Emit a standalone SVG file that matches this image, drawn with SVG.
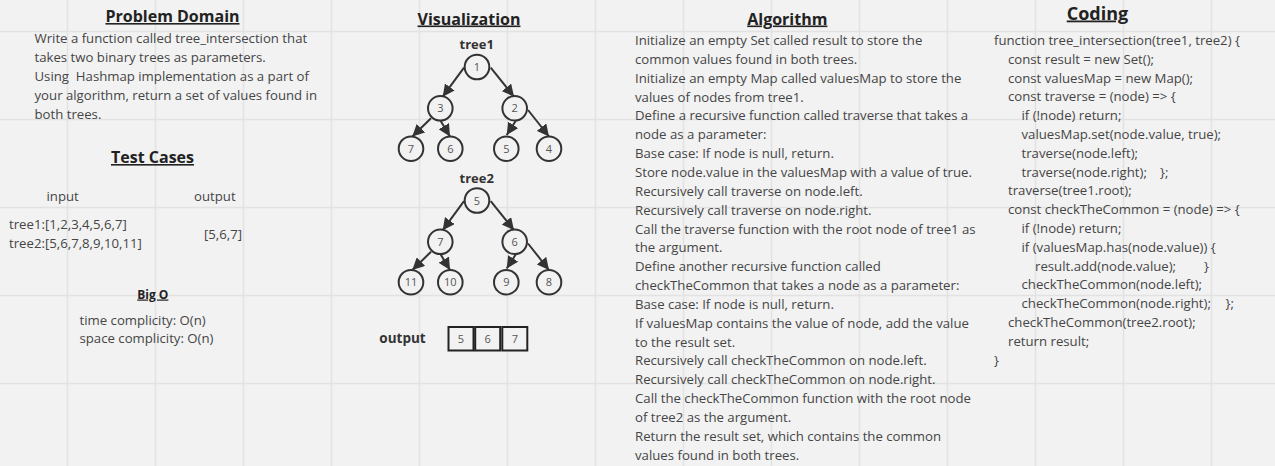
<svg xmlns="http://www.w3.org/2000/svg" width="1275" height="466" viewBox="0 0 1275 466">
<defs>
<style>
.bg{fill:#f2f2f2}
.grid line{stroke:#e2e2e2;stroke-width:1.5}
.h{font-family:"Open Sans","Liberation Sans",sans-serif;font-weight:bold;fill:#222;text-decoration:underline;text-anchor:middle}
.t{font-family:"Open Sans","Liberation Sans",sans-serif;font-size:13.2px;fill:#454545}
.b{font-family:"Open Sans","Liberation Sans",sans-serif;font-weight:bold;fill:#333}
.n circle{fill:#f2f2f2;stroke:#333;stroke-width:2}
.n text{font-family:"Open Sans","Liberation Sans",sans-serif;font-size:11px;fill:#555;text-anchor:middle}
.e line{stroke:#333;stroke-width:2;marker-end:url(#ah)}
.box rect{fill:#f2f2f2;stroke:#222;stroke-width:2}
</style>
<marker id="ah" markerUnits="userSpaceOnUse" markerWidth="12" markerHeight="12" refX="10" refY="5" orient="auto" viewBox="0 0 10 10"><path d="M0,0 L10,5 L0,10 z" fill="#333"/></marker>
</defs>
<rect class="bg" x="0" y="0" width="1275" height="466"/>
<g class="grid">
<line x1="67.5" y1="0" x2="67.5" y2="466"/><line x1="155.5" y1="0" x2="155.5" y2="466"/><line x1="243.5" y1="0" x2="243.5" y2="466"/><line x1="331.5" y1="0" x2="331.5" y2="466"/><line x1="419.5" y1="0" x2="419.5" y2="466"/><line x1="507.5" y1="0" x2="507.5" y2="466"/><line x1="595.5" y1="0" x2="595.5" y2="466"/><line x1="683.5" y1="0" x2="683.5" y2="466"/><line x1="771.5" y1="0" x2="771.5" y2="466"/><line x1="859.5" y1="0" x2="859.5" y2="466"/><line x1="947.5" y1="0" x2="947.5" y2="466"/><line x1="1035.5" y1="0" x2="1035.5" y2="466"/><line x1="1123.5" y1="0" x2="1123.5" y2="466"/><line x1="1211.5" y1="0" x2="1211.5" y2="466"/>
<line x1="0" y1="31.5" x2="1275" y2="31.5"/><line x1="0" y1="119.5" x2="1275" y2="119.5"/><line x1="0" y1="207.5" x2="1275" y2="207.5"/><line x1="0" y1="295.5" x2="1275" y2="295.5"/><line x1="0" y1="383.5" x2="1275" y2="383.5"/>
</g>

<g id="problem-domain">
<text class="h" x="172.5" y="22" font-size="16">Problem Domain</text>
<text class="t" x="34.5" y="42.5">Write a function called tree_intersection that</text>
<text class="t" x="34.5" y="61.5">takes two binary trees as parameters.</text>
<text class="t" x="34.5" y="80.5" xml:space="preserve">Using  Hashmap implementation as a part of</text>
<text class="t" x="34.5" y="99.5">your algorithm, return a set of values found in</text>
<text class="t" x="34.5" y="118.5">both trees.</text>
</g>

<g id="test-cases">
<text class="h" x="152.5" y="163" font-size="16">Test Cases</text>
<text class="t" x="46.5" y="201">input</text>
<text class="t" x="194" y="201">output</text>
<text class="t" x="9" y="229">tree1:[1,2,3,4,5,6,7]</text>
<text class="t" x="9" y="247.5">tree2:[5,6,7,8,9,10,11]</text>
<text class="t" x="204" y="238.5">[5,6,7]</text>
</g>

<g id="big-o">
<text class="h" x="152.8" y="298.5" font-size="12">Big O</text>
<text class="t" x="79.5" y="325" font-size="13">time complicity: O(n)</text>
<text class="t" x="79.5" y="343" font-size="13">space complicity: O(n)</text>
</g>

<g id="visualization">
<text class="h" x="469" y="24.5" font-size="16">Visualization</text>
<text class="b" x="476.7" y="49" font-size="13" text-anchor="middle">tree1</text>
<text class="b" x="476.7" y="182.5" font-size="13" text-anchor="middle">tree2</text>
</g>

<g id="connectors" class="e">
<line x1="464" y1="67.7" x2="442.7" y2="96.7"/>
<line x1="490.7" y1="67.7" x2="514" y2="96.7"/>
<line x1="431" y1="118.3" x2="412.3" y2="136.5"/>
<line x1="440.7" y1="121" x2="450" y2="136.5"/>
<line x1="515.7" y1="121" x2="506.7" y2="135"/>
<line x1="528" y1="110" x2="549" y2="136.5"/>
<line x1="464" y1="201.2" x2="442.7" y2="230.2"/>
<line x1="490.7" y1="201.2" x2="514" y2="230.2"/>
<line x1="431" y1="251.8" x2="412.3" y2="270"/>
<line x1="440.7" y1="254.5" x2="450" y2="270"/>
<line x1="515.7" y1="254.5" x2="506.7" y2="268.5"/>
<line x1="528" y1="243.5" x2="549" y2="270"/>
</g>

<g id="t1-n1" class="n"><circle cx="477" cy="67" r="12.3"/><text x="477" y="71">1</text></g>
<g id="t1-n3" class="n"><circle cx="440.3" cy="108.3" r="12.3"/><text x="440.3" y="112.3">3</text></g>
<g id="t1-n2" class="n"><circle cx="514.7" cy="108.3" r="12.3"/><text x="514.7" y="112.3">2</text></g>
<g id="t1-n7" class="n"><circle cx="411" cy="148.7" r="12.3"/><text x="411" y="152.7">7</text></g>
<g id="t1-n6" class="n"><circle cx="450.3" cy="148.7" r="12.3"/><text x="450.3" y="152.7">6</text></g>
<g id="t1-n5" class="n"><circle cx="506.3" cy="148.7" r="12.3"/><text x="506.3" y="152.7">5</text></g>
<g id="t1-n4" class="n"><circle cx="549" cy="148.7" r="12.3"/><text x="549" y="152.7">4</text></g>

<g id="t2-n5" class="n"><circle cx="477" cy="200.5" r="12.3"/><text x="477" y="204.5">5</text></g>
<g id="t2-n7" class="n"><circle cx="440.3" cy="241.8" r="12.3"/><text x="440.3" y="245.8">7</text></g>
<g id="t2-n6" class="n"><circle cx="514.7" cy="241.8" r="12.3"/><text x="514.7" y="245.8">6</text></g>
<g id="t2-n11" class="n"><circle cx="411" cy="282.2" r="12.3"/><text x="411" y="286.2">11</text></g>
<g id="t2-n10" class="n"><circle cx="450.3" cy="282.2" r="12.3"/><text x="450.3" y="286.2">10</text></g>
<g id="t2-n9" class="n"><circle cx="506.3" cy="282.2" r="12.3"/><text x="506.3" y="286.2">9</text></g>
<g id="t2-n8" class="n"><circle cx="549" cy="282.2" r="12.3"/><text x="549" y="286.2">8</text></g>

<g id="output">
<text class="b" x="379.3" y="342.7" font-size="13.5">output</text>
<g class="box n">
<rect x="448.5" y="327" width="25" height="23.5"/><text x="461" y="342.5">5</text>
<rect x="475.2" y="327" width="25" height="23.5"/><text x="487.7" y="342.5">6</text>
<rect x="502.3" y="327" width="25" height="23.5"/><text x="514.8" y="342.5">7</text>
</g>
</g>

<g id="algorithm">
<text class="h" x="787.3" y="24.5" font-size="16">Algorithm</text>
<text class="t" x="635" y="45">Initialize an empty Set called result to store the</text>
<text class="t" x="635" y="63.85">common values found in both trees.</text>
<text class="t" x="635" y="82.7">Initialize an empty Map called valuesMap to store the</text>
<text class="t" x="635" y="101.55">values of nodes from tree1.</text>
<text class="t" x="635" y="120.4">Define a recursive function called traverse that takes a</text>
<text class="t" x="635" y="139.25">node as a parameter:</text>
<text class="t" x="635" y="158.1">Base case: If node is null, return.</text>
<text class="t" x="635" y="176.95">Store node.value in the valuesMap with a value of true.</text>
<text class="t" x="635" y="195.8">Recursively call traverse on node.left.</text>
<text class="t" x="635" y="214.65">Recursively call traverse on node.right.</text>
<text class="t" x="635" y="233.5">Call the traverse function with the root node of tree1 as</text>
<text class="t" x="635" y="252.35">the argument.</text>
<text class="t" x="635" y="271.2">Define another recursive function called</text>
<text class="t" x="635" y="290.05">checkTheCommon that takes a node as a parameter:</text>
<text class="t" x="635" y="308.9">Base case: If node is null, return.</text>
<text class="t" x="635" y="327.75">If valuesMap contains the value of node, add the value</text>
<text class="t" x="635" y="346.6">to the result set.</text>
<text class="t" x="635" y="365.45">Recursively call checkTheCommon on node.left.</text>
<text class="t" x="635" y="384.3">Recursively call checkTheCommon on node.right.</text>
<text class="t" x="635" y="403.15">Call the checkTheCommon function with the root node</text>
<text class="t" x="635" y="422">of tree2 as the argument.</text>
<text class="t" x="635" y="440.85">Return the result set, which contains the common</text>
<text class="t" x="635" y="459.7">values found in both trees.</text>
</g>

<g id="coding">
<text class="h" x="1097.5" y="19.5" font-size="18">Coding</text>
<text class="t" x="994" y="45">function tree_intersection(tree1, tree2) {</text>
<text class="t" x="1008" y="63.8">const result = new Set();</text>
<text class="t" x="1008" y="82.6">const valuesMap = new Map();</text>
<text class="t" x="1008" y="101.4">const traverse = (node) =&gt; {</text>
<text class="t" x="1021.5" y="120.2">if (!node) return;</text>
<text class="t" x="1021.5" y="139">valuesMap.set(node.value, true);</text>
<text class="t" x="1021.5" y="157.8">traverse(node.left);</text>
<text class="t" x="1021.5" y="176.6">traverse(node.right);<tspan x="1160">};</tspan></text>
<text class="t" x="1008" y="195.4">traverse(tree1.root);</text>
<text class="t" x="1008" y="214.2">const checkTheCommon = (node) =&gt; {</text>
<text class="t" x="1021.5" y="233">if (!node) return;</text>
<text class="t" x="1021.5" y="251.8">if (valuesMap.has(node.value)) {</text>
<text class="t" x="1035" y="270.6">result.add(node.value);<tspan x="1204">}</tspan></text>
<text class="t" x="1021.5" y="289.4">checkTheCommon(node.left);</text>
<text class="t" x="1021.5" y="308.2">checkTheCommon(node.right);<tspan x="1225.5">};</tspan></text>
<text class="t" x="1008" y="327">checkTheCommon(tree2.root);</text>
<text class="t" x="1008" y="345.8">return result;</text>
<text class="t" x="994" y="364.6">}</text>
</g>
</svg>
